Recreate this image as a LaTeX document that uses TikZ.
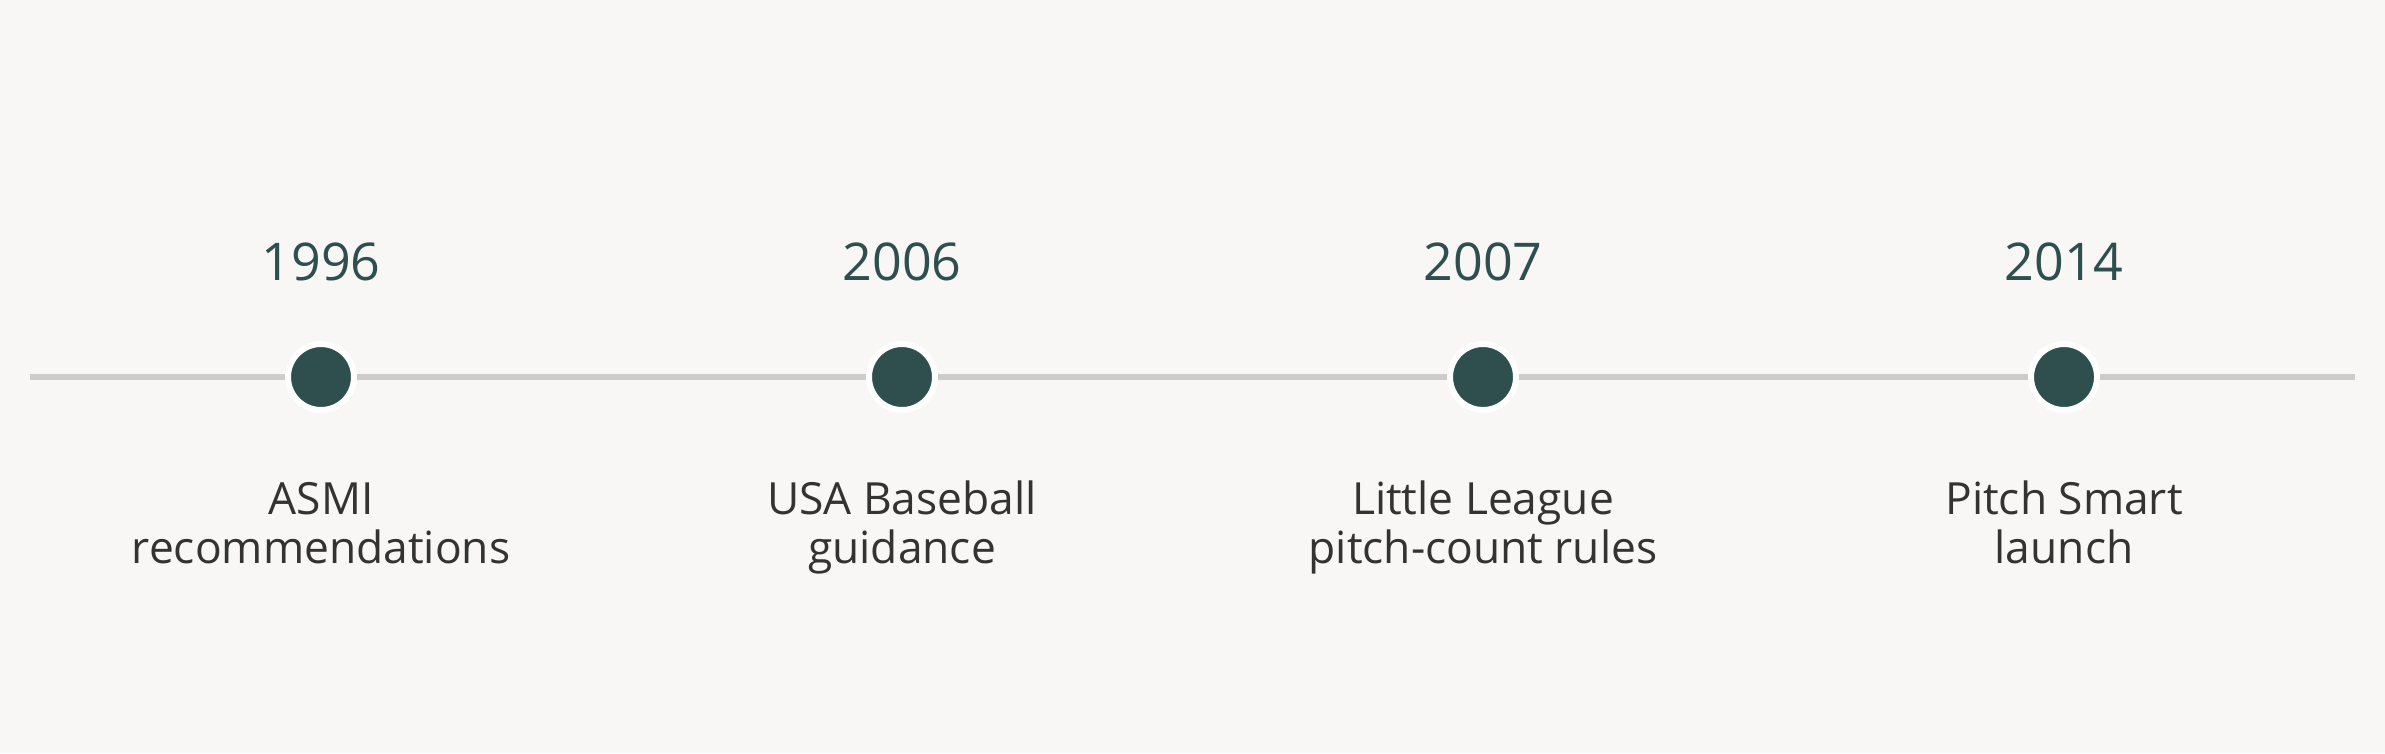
\documentclass[tikz,border=0pt]{standalone}
\usepackage{fontspec}
\setmainfont{Open Sans}
\usepackage{tikz}

\definecolor{bgGray}{HTML}{F8F7F5}
\definecolor{dotTeal}{HTML}{2F4F4E}
\definecolor{lineGray}{HTML}{CCCCCC}
\definecolor{labelGray}{HTML}{333333}

\begin{document}
\begin{tikzpicture}[x=0.3pt,y=-0.3pt]
  \tikzstyle{milestone} = [circle, draw=white, line width=1.8pt, fill=dotTeal, minimum size=19.8pt, inner sep=0pt];
  \tikzstyle{yearLabel} = [text=dotTeal, inner sep=0pt, node distance=34.5pt, font={\fontsize{15.6}{19}\selectfont}];
  \tikzstyle{eventLabel} = [text=labelGray, align=center, inner sep=0pt, anchor=base, font={\fontsize{13.3}{14.7}\selectfont}];
  \tikzstyle{timelineEdge} = [lineGray, line width=1.8pt];

  \fill[bgGray] (0,0) rectangle (2385,753);
  \useasboundingbox (0,0) rectangle (2385,753);

  \coordinate (start) at (30,377);
  \coordinate (end)   at (2355,377);

  \node[milestone] (A) at (321,377)  {};
  \node[milestone] (B) at (902,377)  {};
  \node[milestone] (C) at (1483,377) {};
  \node[milestone] (D) at (2064,377) {};

  \draw[timelineEdge] (start) -- (A) -- (B) -- (C) -- (D) -- (end);

  \node[yearLabel] (yA) [above of=A] {1996};
  \node[yearLabel] (yB) [above of=B] {2006};
  \node[yearLabel] (yC) [above of=C] {2007};
  \node[yearLabel] (yD) [above of=D] {2014};

  % base anchor sits on the last line
  \node[eventLabel] (eA) at (321,563)  {ASMI\\recommendations};
  \node[eventLabel] (eB) at (902,563)  {USA Baseball\\guidance};
  \node[eventLabel] (eC) at (1483,563) {Little League\\pitch-count rules};
  \node[eventLabel] (eD) at (2064,563) {Pitch Smart\\launch};
\end{tikzpicture}
\end{document}
